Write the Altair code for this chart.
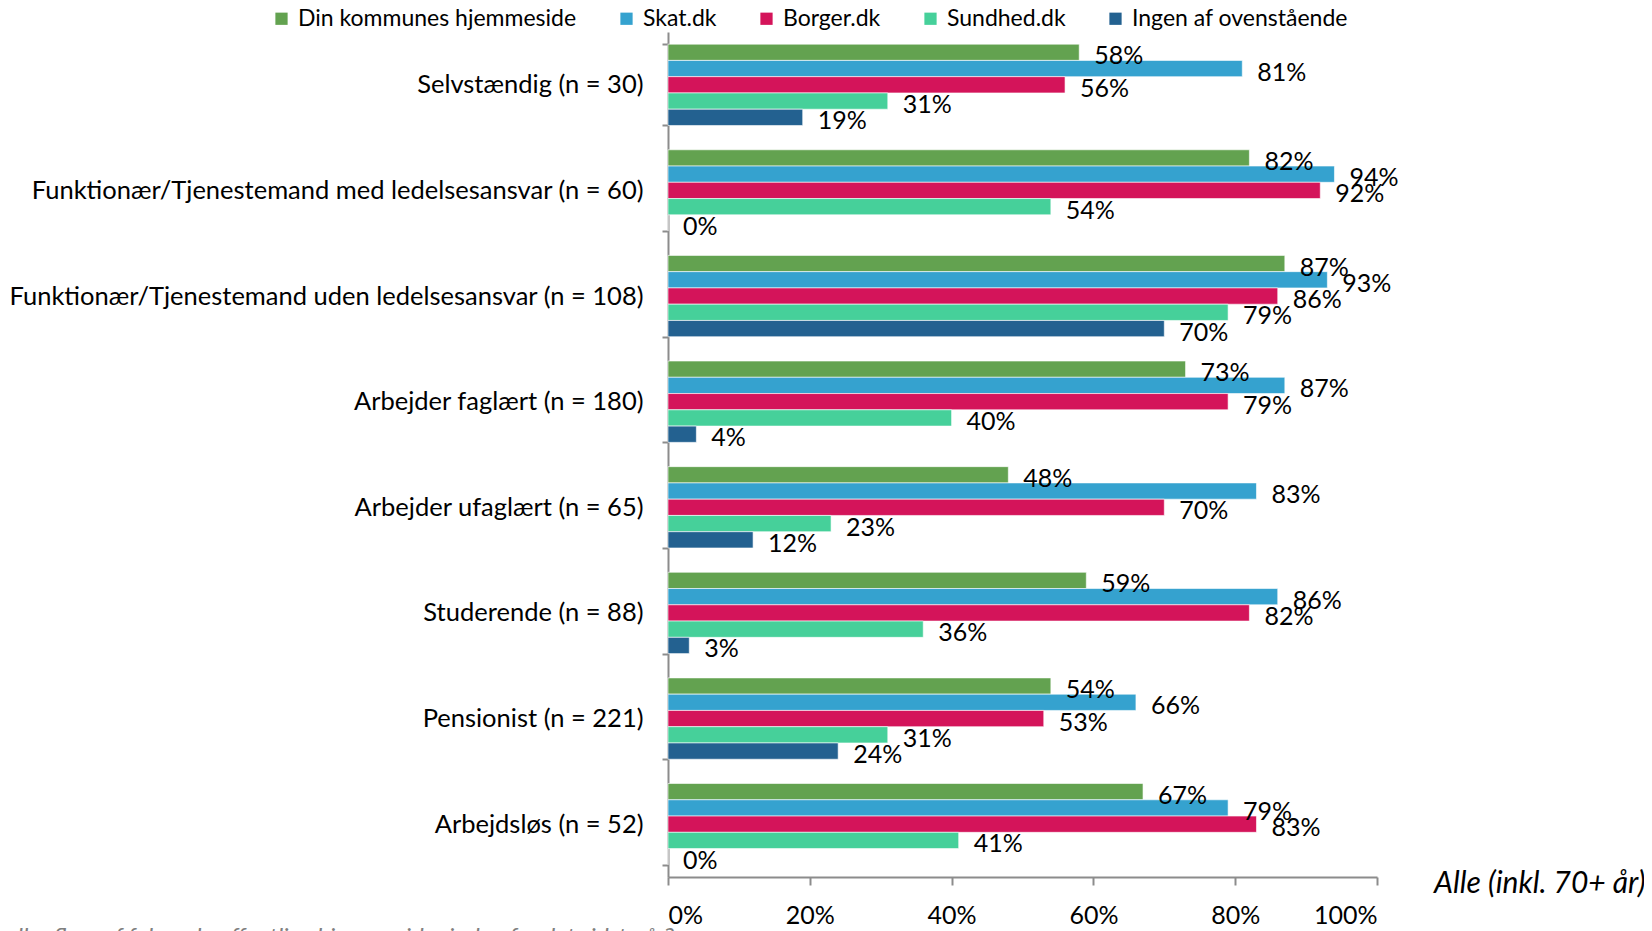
import altair as alt
import pandas as pd

categories = [
    "Selvstændig (n = 30)",
    "Funktionær/Tjenestemand med ledelsesansvar (n = 60)",
    "Funktionær/Tjenestemand uden ledelsesansvar (n = 108)",
    "Arbejder faglært (n = 180)",
    "Arbejder ufaglært (n = 65)",
    "Studerende (n = 88)",
    "Pensionist (n = 221)",
    "Arbejdsløs (n = 52)",
]
series = ["Din kommunes hjemmeside", "Skat.dk", "Borger.dk", "Sundhed.dk", "Ingen af ovenstående"]
colors = ["#63A250", "#35A2CF", "#D4145A", "#46D09A", "#236190"]

kommune = [58, 82, 87, 73, 48, 59, 54, 67]
skat = [81, 94, 93, 87, 83, 86, 66, 79]
borger = [56, 92, 86, 79, 70, 82, 53, 83]
sundhed = [31, 54, 79, 40, 23, 36, 31, 41]
ingen = [19, 0, 70, 4, 12, 3, 24, 0]

x_ticks = [0, 0.2, 0.4, 0.6, 0.8, 1.0]

rows = []
for s, vals in zip(series, [kommune, skat, borger, sundhed, ingen]):
    for c, v in zip(categories, vals):
        rows.append({"Kategori": c, "Serie": s, "Andel": v / 100})
df = pd.DataFrame(rows)

FONT = "Lato"

y_enc = alt.Y(
    "Kategori:N",
    sort=categories,
    scale=alt.Scale(paddingInner=0.23, paddingOuter=0.115),
    axis=alt.Axis(
        title=None,
        labelFont=FONT,
        labelFontSize=25.5,
        labelColor="#000000",
        labelPadding=19,
        tickBand="extent",
        tickSize=6,
        tickColor="#8c8c8c",
        tickWidth=2,
        domainColor="#8c8c8c",
        domainWidth=2,
        labelLimit=700,
    ),
)
yoff_enc = alt.YOffset("Serie:N", sort=series, scale=alt.Scale(paddingInner=0, paddingOuter=0))
x_enc = alt.X(
    "Andel:Q",
    scale=alt.Scale(domain=[0, 1], nice=False),
    axis=alt.Axis(
        values=x_ticks,
        format=".0%",
        grid=False,
        title="Alle (inkl. 70+ år)",
        titleFont=FONT,
        titleFontSize=30,
        titleFontStyle="italic",
        titleFontWeight="normal",
        titleColor="#000000",
        titleX=977,
        titleY=6,
        titleAlign="right",
        titleBaseline="middle",
        titleAngle=0,
        labelFont=FONT,
        labelFontSize=25,
        labelColor="#000000",
        labelPadding=18,
        tickSize=8,
        tickColor="#8c8c8c",
        tickWidth=2,
        domainColor="#8c8c8c",
        domainWidth=2,
    ),
)

color_enc = alt.Color(
    "Serie:N",
    sort=series,
    scale=alt.Scale(domain=series, range=colors),
    legend=alt.Legend(
        title=None,
        orient="none",
        direction="horizontal",
        legendX=-398,
        legendY=-25,
        symbolType="square",
        symbolSize=150,
        symbolStrokeWidth=0,
        labelFont=FONT,
        labelFontSize=23,
        labelColor="#000000",
        labelOffset=5,
        columnPadding=38,
        labelLimit=400,
    ),
)

bars = alt.Chart(df).mark_bar(stroke="#ffffff", strokeWidth=1, strokeOpacity=0.6).encode(
    x=x_enc, y=y_enc, yOffset=yoff_enc, color=color_enc
)

labels = alt.Chart(df).mark_text(
    align="left", baseline="middle", dx=15, dy=4, font=FONT, fontSize=25, color="#000000"
).encode(
    x=alt.X("Andel:Q"),
    y=alt.Y("Kategori:N", sort=categories),
    yOffset=alt.YOffset("Serie:N", sort=series),
    text=alt.Text("Andel:Q", format=".0%"),
)

chart = (
    alt.layer(bars, labels)
    .properties(
        width=709,
        height=845,
        autosize=alt.AutoSizeParams(type="none"),
        padding={"left": 660, "top": 24, "right": 267, "bottom": 54},
        title=alt.TitleParams(
            text="eller flere af følgende offentlige hjemmesider inden for det sidste år?",
            orient="bottom",
            anchor="start",
            frame="group",
            dx=-662,
            offset=-2,
            font=FONT,
            fontSize=24,
            fontStyle="italic",
            fontWeight="normal",
            color="#7f7f7f",
            baseline="top",
        ),
    )
    .configure_view(stroke=None)
)

chart.save("out.html", embed_options={"renderer": "svg", "actions": False})
